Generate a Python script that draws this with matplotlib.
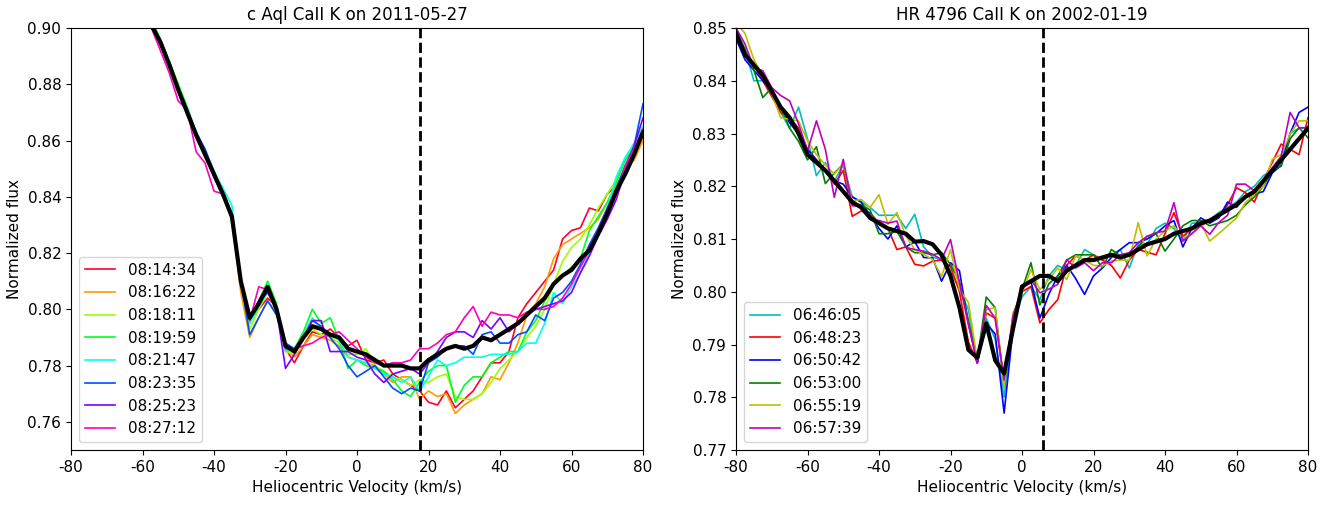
import numpy as np
import matplotlib
matplotlib.use("Agg")
import matplotlib.pyplot as plt

plt.rcParams['font.family'] = ['DejaVu Sans']
plt.rcParams['axes.unicode_minus'] = False

# ---------------- Left panel: c Aql ----------------
left_title = "c Aql CaII K on 2011-05-27"
left_vrest = 17.6
left_times = ["08:14:34", "08:16:22", "08:18:11", "08:19:59",
              "08:21:47", "08:23:35", "08:25:23", "08:27:12"]
v_left = np.arange(-62.5, 80.1, 2.5)

left_mean = [.917, .909, .901, .895, .887, .878, .870, .862, .855, .848,
             .841, .833, .810, .797, .802, .808, .800, .787, .785, .790,
             .794, .793, .791, .790, .786, .785, .784, .782, .780, .780,
             .780, .779, .779, .782, .784, .786, .787, .786, .787, .790,
             .789, .791, .793, .795, .798, .801, .804, .809, .812, .814,
             .818, .821, .827, .834, .842, .848, .855, .863]

left_081434 = [.917, .909, .901, .894, .886, .878, .870, .861, .855, .847,
               .840, .832, .808, .796, .800, .804, .801, .786, .781, .787,
               .792, .791, .793, .790, .787, .789, .782, .781, .782, .777,
               .775, .773, .771, .767, .766, .771, .765, .768, .771, .776,
               .781, .781, .785, .797, .802, .806, .810, .814, .825, .828,
               .829, .836, .835, .841, .844, .849, .857, .863]
left_081622 = [.917, .909, .902, .895, .887, .879, .871, .862, .855, .848,
               .840, .832, .806, .790, .797, .803, .799, .786, .783, .787,
               .791, .790, .789, .787, .783, .782, .781, .780, .777, .774,
               .776, .776, .768, .771, .769, .770, .763, .766, .768, .770,
               .776, .775, .781, .788, .798, .802, .808, .818, .823, .825,
               .827, .829, .832, .838, .844, .850, .853, .860]
left_081811 = [.919, .911, .903, .896, .888, .880, .871, .863, .856, .848,
               .841, .833, .809, .793, .800, .806, .800, .785, .784, .789,
               .793, .791, .790, .788, .784, .784, .786, .780, .778, .776,
               .775, .773, .775, .774, .776, .777, .769, .768, .768, .770,
               .774, .779, .782, .785, .790, .794, .800, .809, .817, .822,
               .825, .830, .836, .841, .846, .853, .857, .862]
left_081959 = [.919, .911, .903, .896, .888, .880, .872, .863, .856, .849,
               .841, .833, .809, .795, .803, .810, .802, .786, .786, .792,
               .800, .795, .797, .789, .779, .782, .780, .779, .778, .775,
               .771, .769, .774, .778, .780, .780, .767, .773, .776, .776,
               .781, .783, .785, .785, .792, .796, .803, .809, .812, .815,
               .818, .828, .833, .838, .845, .853, .858, .864]
left_082147 = [.918, .910, .902, .895, .887, .879, .871, .863, .856, .849,
               .843, .837, .810, .795, .801, .806, .801, .785, .786, .791,
               .797, .793, .791, .789, .783, .782, .781, .779, .777, .776,
               .774, .776, .771, .776, .782, .780, .781, .783, .783, .783,
               .784, .784, .784, .785, .788, .788, .795, .806, .802, .808,
               .813, .820, .826, .836, .847, .854, .859, .865]
left_082335 = [.917, .909, .901, .894, .887, .879, .871, .863, .857, .849,
               .841, .834, .810, .791, .797, .803, .798, .788, .786, .790,
               .796, .794, .790, .786, .780, .776, .778, .780, .776, .772,
               .770, .772, .771, .781, .783, .786, .787, .787, .784, .791,
               .792, .788, .788, .791, .792, .798, .796, .804, .806, .810,
               .816, .823, .829, .836, .843, .851, .858, .873]
left_082523 = [.918, .910, .902, .894, .886, .878, .870, .862, .855, .848,
               .841, .833, .810, .797, .803, .806, .800, .779, .784, .790,
               .796, .796, .785, .785, .785, .783, .782, .777, .774, .777,
               .778, .779, .777, .781, .785, .790, .792, .792, .790, .796,
               .793, .797, .792, .795, .798, .800, .801, .802, .803, .806,
               .813, .819, .826, .832, .839, .849, .858, .868]
left_082712 = [.916, .908, .900, .892, .884, .874, .871, .856, .852, .842,
               .841, .832, .809, .796, .808, .807, .800, .786, .786, .787,
               .788, .790, .791, .792, .789, .786, .783, .781, .780, .781,
               .781, .782, .786, .786, .788, .791, .792, .797, .801, .794,
               .799, .798, .798, .797, .799, .800, .800, .801, .804, .809,
               .815, .821, .827, .833, .841, .851, .857, .864]
left_series = [left_081434, left_081622, left_081811, left_081959,
               left_082147, left_082335, left_082523, left_082712]

# ---------------- Right panel: HR 4796 ----------------
right_title = "HR 4796 CaII K on 2002-01-19"
right_vrest = 5.9
right_times = ["06:46:05", "06:48:23", "06:50:42", "06:53:00", "06:55:19", "06:57:39"]
right_colors = ['c', 'r', 'b', 'g', 'y', 'm']
v_right = np.arange(-80.0, 80.1, 2.5)

right_mean = [.849, .845, .843, .841, .838, .835, .833, .830, .826, .8245,
              .823, .821, .819, .817, .816, .814, .813, .812, .8115, .811,
              .8095, .8096, .809, .807, .803, .797, .789, .7875, .794, .787,
              .7845, .793, .801, .802, .803, .803, .802, .804, .805, .806,
              .806, .8065, .807, .8065, .807, .808, .809, .8095, .810, .811,
              .8115, .812, .813, .8135, .8145, .8155, .8165, .818, .819, .821,
              .823, .825, .827, .829, .831]

right_064605 = [.850, .846, .840, .840, .838, .834, .831, .835, .829, .822,
                .8245, .821, .824, .818, .817, .816, .8145, .8145, .8145, .812,
                .8147, .8085, .8066, .806, .804, .8005, .7966, .7865, .795, .791,
                .780, .794, .799, .801, .7985, .803, .805, .804, .805, .808,
                .807, .806, .807, .808, .8045, .809, .809, .812, .813, .812,
                .8096, .813, .813, .8135, .815, .816, .817, .819, .820, .822,
                .823, .825, .830, .831, .831]
right_064823 = [.849, .845, .843, .840, .837, .834, .833, .831, .827, .825,
                .823, .8204, .823, .8143, .8153, .815, .813, .812, .808, .8085,
                .8052, .8049, .8058, .806, .8048, .800, .7905, .7865, .796, .795,
                .783, .795, .800, .801, .7941, .7966, .7985, .805, .8068, .806,
                .807, .806, .805, .8026, .806, .808, .8075, .807, .811, .815,
                .8105, .812, .8125, .8135, .814, .8165, .8197, .8188, .817, .821,
                .8245, .828, .827, .826, .833]
right_065042 = [.848, .844, .842, .840, .838, .835, .832, .830, .827, .825,
                .823, .821, .8204, .818, .817, .8145, .812, .810, .8125, .8085,
                .8095, .8065, .8064, .802, .8055, .804, .794, .7865, .794, .792,
                .777, .793, .8007, .802, .795, .7995, .803, .805, .8025, .7995,
                .803, .8045, .8065, .808, .8093, .8093, .810, .811, .8125, .8135,
                .8085, .812, .814, .813, .814, .817, .816, .818, .8185, .819,
                .8225, .824, .830, .834, .835]
right_065300 = [.849, .846, .842, .8368, .8387, .835, .831, .8285, .825, .8275,
                .8205, .8225, .8242, .8166, .8165, .8155, .811, .811, .8115, .8085,
                .8074, .8074, .807, .8074, .8052, .802, .7945, .787, .799, .797,
                .782, .7955, .8004, .8055, .7975, .8015, .803, .806, .807, .807,
                .807, .8045, .808, .8068, .807, .8085, .8105, .811, .8077, .810,
                .8125, .8135, .8135, .8125, .813, .8135, .8145, .8165, .818, .820,
                .823, .8238, .829, .8311, .8292]
right_065519 = [.851, .849, .844, .841, .8375, .833, .8327, .8324, .8286, .826,
                .824, .8223, .8242, .8172, .8175, .816, .8184, .8128, .815, .8106,
                .808, .8071, .8061, .8029, .808, .8004, .798, .787, .7966, .797,
                .782, .796, .7998, .8042, .8004, .8023, .8045, .8023, .8068, .806,
                .805, .8049, .8058, .806, .806, .8131, .8068, .810, .8115, .8125,
                .8102, .811, .813, .8096, .811, .8125, .814, .8169, .8185, .820,
                .8251, .826, .8299, .8324, .8324]
right_065739 = [.850, .847, .8425, .8419, .8387, .8372, .8362, .8318, .8267, .8324,
                .827, .8179, .8251, .8163, .8162, .8137, .8135, .813, .8134, .8084,
                .808, .8077, .8071, .8061, .8099, .8017, .7938, .7865, .7974, .795,
                .7833, .7955, .8004, .8023, .7998, .8005, .8014, .8061, .8045, .8055,
                .804, .8055, .8055, .807, .8074, .8093, .8105, .8112, .8115, .8169,
                .8096, .811, .8125, .8109, .8131, .8145, .8204, .8204, .8191, .821,
                .8235, .8257, .834, .8311, .8311]
right_series = [right_064605, right_064823, right_065042,
                right_065300, right_065519, right_065739]

# ---------------- Figure ----------------
W, H = 1339, 509
fig = plt.figure(figsize=(W / 100, H / 100), dpi=100)
ax_top, ax_bot = 28, 450
axL = fig.add_axes([71 / W, 1 - ax_bot / H, 572 / W, (ax_bot - ax_top) / H])
axR = fig.add_axes([736 / W, 1 - ax_bot / H, 572 / W, (ax_bot - ax_top) / H])

FS = 11
left_colors = plt.get_cmap('gist_rainbow')(np.linspace(0, 1, len(left_times)))
for y, c, lab in zip(left_series, left_colors, left_times):
    axL.plot(v_left, y, color=c, lw=1.2, label=lab)
axL.plot(v_left, left_mean, color='black', lw=3.0)
axL.axvline(left_vrest, color='black', ls='--', lw=2.0)
axL.set_xlim(-80, 80)
axL.set_ylim(0.75, 0.90)
axL.set_yticks(np.arange(0.76, 0.9001, 0.02))
axL.set_title(left_title, fontsize=12)

for y, c, lab in zip(right_series, right_colors, right_times):
    axR.plot(v_right, y, color=c, lw=1.2, label=lab)
axR.plot(v_right, right_mean, color='black', lw=3.0)
axR.axvline(right_vrest, color='black', ls='--', lw=2.0)
axR.set_xlim(-80, 80)
axR.set_ylim(0.77, 0.85)
axR.set_yticks(np.arange(0.77, 0.8501, 0.01))
axR.set_title(right_title, fontsize=12)

for ax in (axL, axR):
    ax.set_xticks(np.arange(-80, 81, 20))
    ax.set_xlabel("Heliocentric Velocity (km/s)", fontsize=FS)
    ax.set_ylabel("Normalized flux", fontsize=FS)
    ax.tick_params(labelsize=FS)
    ax.legend(loc='lower left', fontsize=FS)

fig.savefig("out.png", dpi=100)
